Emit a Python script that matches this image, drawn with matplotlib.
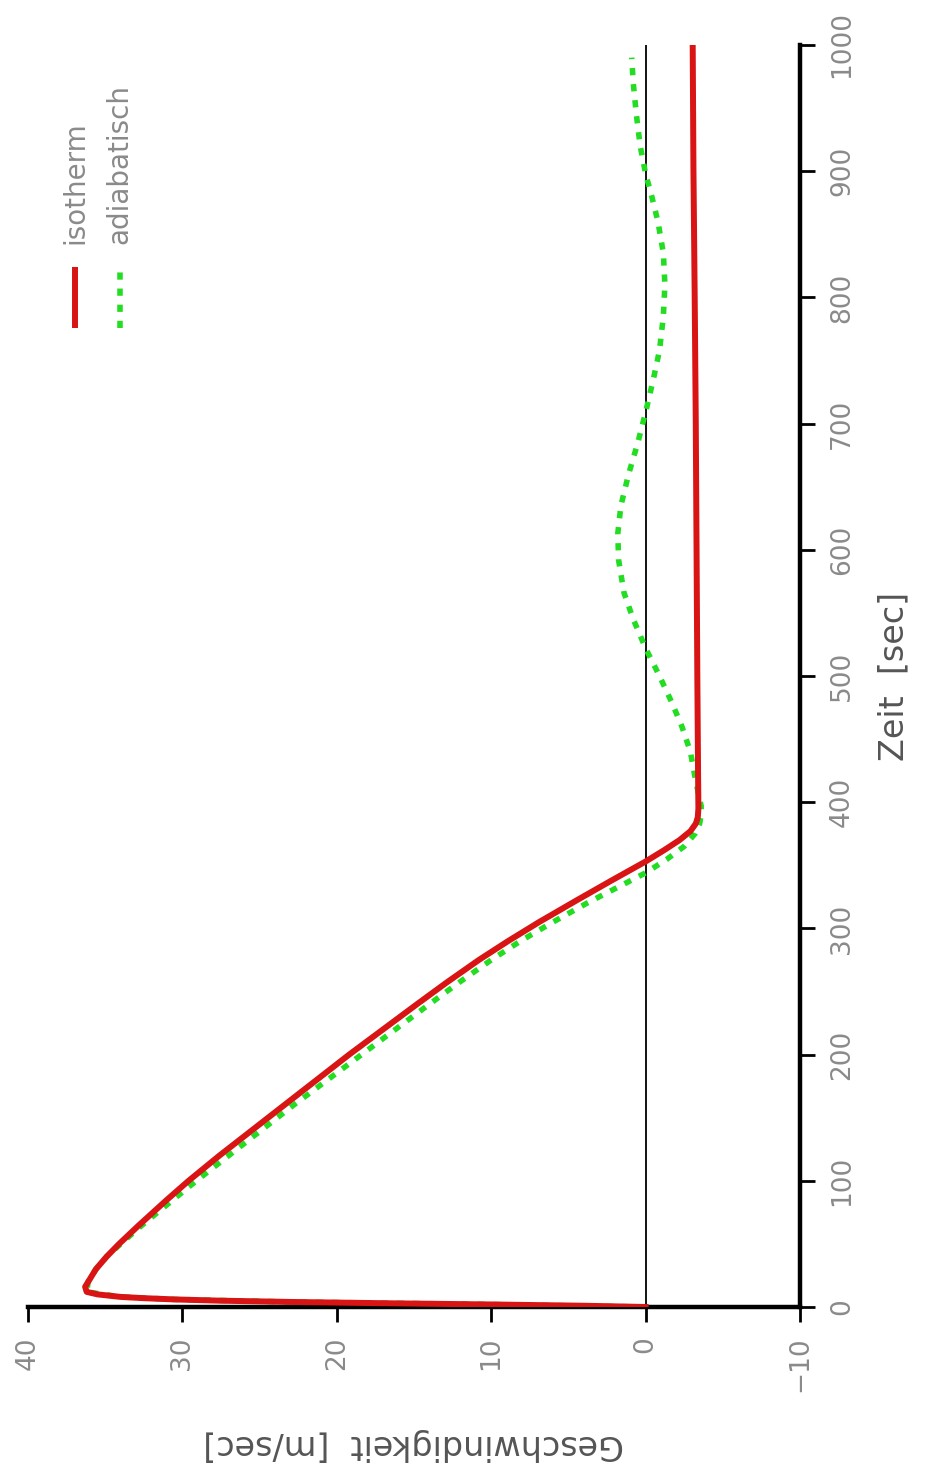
import matplotlib
matplotlib.use("Agg")
import matplotlib.pyplot as plt

# Zeit [sec] und Geschwindigkeit [m/sec]
t_iso = [0, 1, 2, 3, 4, 5, 6, 7, 8, 10, 12, 16, 20, 30, 40, 50, 65, 85, 100,
         120, 140, 160, 180, 200, 220, 240, 257, 275, 290, 305, 322, 338, 353,
         362, 370, 377, 383, 388, 395, 420, 500, 600, 700, 800, 900, 1000]
v_iso = [0, 4, 10, 17, 23, 27.5, 30.5, 32.5, 34, 35.5, 36.2, 36.3, 36.1, 35.6,
         34.9, 34.1, 32.8, 31.0, 29.6, 27.6, 25.5, 23.4, 21.3, 19.2, 17.0, 14.8,
         12.9, 10.8, 8.9, 6.9, 4.5, 2.2, 0, -1.2, -2.2, -2.9, -3.25, -3.38,
         -3.42, -3.4, -3.35, -3.3, -3.25, -3.18, -3.1, -3.05]

t_adi = [0, 2, 4, 6, 8, 12, 20, 30, 40, 50, 65, 85, 100, 120, 140, 160, 180,
         200, 220, 240, 257, 275, 290, 305, 320, 332, 344, 355, 365, 375, 383,
         390, 397, 405, 420, 440, 460, 479, 500, 522, 545, 566, 592, 613, 635,
         660, 685, 709, 735, 758, 785, 810, 835, 860, 880, 898, 920, 945, 970,
         990]
v_adi = [0, 10, 23, 30.5, 34, 36.2, 36.1, 35.6, 34.9, 34.0, 32.6, 30.6, 29.1,
         27.0, 24.9, 22.8, 20.6, 18.4, 16.2, 14.0, 12.1, 10.0, 8.1, 6.0, 3.8,
         1.9, 0, -1.4, -2.5, -3.2, -3.5, -3.6, -3.6, -3.45, -3.2, -2.9, -2.35,
         -1.7, -0.9, 0, 0.8, 1.4, 1.75, 1.8, 1.6, 1.1, 0.5, 0, -0.5, -0.9,
         -1.15, -1.25, -1.15, -0.8, -0.4, 0, 0.35, 0.6, 0.8, 0.9]

v_ticks = [40, 30, 20, 10, 0, -10]
t_ticks = [0, 100, 200, 300, 400, 500, 600, 700, 800, 900, 1000]

red = '#d81414'
green = '#22dd22'
grey = '#8a8a8a'

fig = plt.figure(figsize=(9.25, 14.77), dpi=100)
ax = fig.add_axes([28 / 925, 1 - 1307 / 1477, (800 - 28) / 925, (1307 - 45) / 1477])

# the whole chart is turned by 90 degrees: speed runs horizontally, time vertically
ax.axvline(0, color='black', lw=1.3, zorder=1)
ax.plot(v_adi, t_adi, color=green, lw=4.0, linestyle=(0, (1.3, 1.6)), zorder=2)
ax.plot(v_iso, t_iso, color=red, lw=4.3, solid_joinstyle='round', zorder=3)

ax.set_xlim(40, -10)
ax.set_ylim(0, 1000)

for s in ['top', 'left']:
    ax.spines[s].set_visible(False)
for s in ['bottom', 'right']:
    ax.spines[s].set_linewidth(3.2)

ax.set_xticks(v_ticks)
ax.set_xticklabels([str(v).replace('-', '\u2212') for v in v_ticks], rotation=90,
                   color=grey, fontsize=19)
ax.yaxis.tick_right()
ax.set_yticks(t_ticks)
ax.set_yticklabels([str(t) for t in t_ticks], rotation=90, va='center',
                   color=grey, fontsize=19)
ax.tick_params(axis='both', direction='out', length=11, width=2, pad=10)

ax.set_xlabel('Geschwindigkeit  [m/sec]', rotation=180, fontsize=24,
              color='#555555', labelpad=26)
ax.yaxis.set_label_position('right')
ax.set_ylabel('Zeit  [sec]', rotation=90, fontsize=24, color='#555555',
              labelpad=16)

# legend, drawn by hand in axes fraction because it is turned too
ax.plot([0.061, 0.061], [0.776, 0.824], transform=ax.transAxes, color=red,
        lw=4.3, solid_capstyle='butt', clip_on=False)
ax.plot([0.119, 0.119], [0.776, 0.824], transform=ax.transAxes, color=green,
        lw=4.0, linestyle=(0, (1.3, 1.6)), clip_on=False)
ax.text(0.061, 0.842, 'isotherm', transform=ax.transAxes, rotation=90,
        ha='center', va='bottom', fontsize=20, color=grey)
ax.text(0.119, 0.842, 'adiabatisch', transform=ax.transAxes, rotation=90,
        ha='center', va='bottom', fontsize=20, color=grey)

fig.savefig('out.png', dpi=100, facecolor='white')
